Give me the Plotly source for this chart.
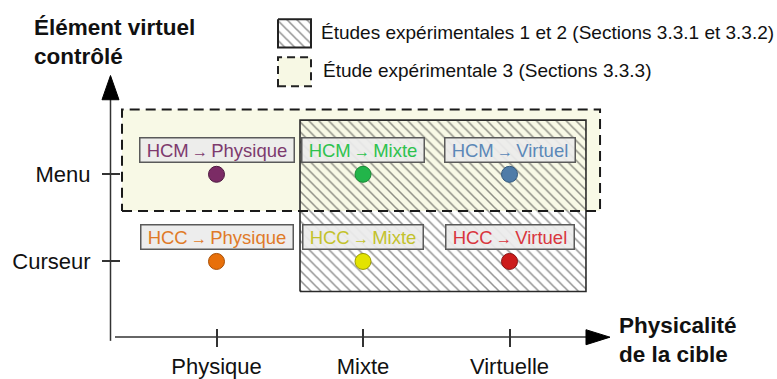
import plotly.graph_objects as go

W, H = 777, 379

# ---------------- data ----------------
x_categories = ["Physique", "Mixte", "Virtuelle"]
y_categories = ["Curseur", "Menu"]

point_x = ["Physique", "Mixte", "Virtuelle", "Physique", "Mixte", "Virtuelle"]
point_y = ["Menu", "Menu", "Menu", "Curseur", "Curseur", "Curseur"]
point_source = ["HCM", "HCM", "HCM", "HCC", "HCC", "HCC"]
point_target = ["Physique", "Mixte", "Virtuel", "Physique", "Mixte", "Virtuel"]

x_title = "Physicalité<br>de la cible"
y_title = "Élément virtuel<br>contrôlé"
legend_labels = [
    "Études expérimentales 1 et 2 (Sections 3.3.1 et 3.3.2)",
    "Étude expérimentale 3 (Sections 3.3.3)",
]

# study regions as spans of categories
study12_x = ["Mixte", "Virtuelle"]
study12_y = ["Curseur", "Menu"]
study3_x = ["Physique", "Virtuelle"]
study3_y = ["Menu", "Menu"]

# ---------------- styles ----------------
text_colors = ["#7d3a6e", "#2ec24e", "#5b88b8", "#e07a28", "#c3c22c", "#d9363e"]
dot_colors = ["#7b2b65", "#22b54a", "#4f7ca8", "#e8700a", "#e3e300", "#cc1c1c"]
dot_lines = ["#4d1a40", "#178a33", "#33597d", "#a84f05", "#9a9a00", "#8a1111"]
FONT = "Liberation Sans, Arial, sans-serif"
AX = "#333333"

xi = {c: i for i, c in enumerate(x_categories)}
yi = {c: i for i, c in enumerate(y_categories)}


def rect(xs, ys, pl, pr, pb, pt):
    x0, x1 = xi[xs[0]] - pl, xi[xs[1]] + pr
    y0, y1 = yi[ys[0]] - pb, yi[ys[1]] + pt
    return [x0, x1, x1, x0, x0], [y0, y0, y1, y1, y0]


def px(x, y):
    return x / W, 1 - y / H


HATCH = dict(shape="\\", size=7, solidity=0.22, fgcolor="#262626", bgcolor="rgba(0,0,0,0)")

fig = go.Figure()

# study 3 fill (below)
sx, sy = rect(study3_x, study3_y, 0.645, 0.618, 0.422, 0.744)
fig.add_trace(go.Scatter(x=sx, y=sy, mode="none", fill="toself",
                         fillcolor="#f8f9e6", hoverinfo="skip", showlegend=False))
# studies 1 & 2 hatched
hx, hy = rect(study12_x, study12_y, 0.43, 0.522, 0.344, 0.622)
fig.add_trace(go.Scatter(x=hx, y=hy, mode="lines", fill="toself",
                         fillcolor="rgba(0,0,0,0)", fillpattern=HATCH,
                         line=dict(color="#2a2a2a", width=1.6),
                         hoverinfo="skip", showlegend=False))
# study 3 dashed border (above)
fig.add_trace(go.Scatter(x=sx, y=sy, mode="lines",
                         line=dict(color="#1a1a1a", width=2, dash="10px,6px"),
                         hoverinfo="skip", showlegend=False))

# points
fig.add_trace(go.Scatter(
    x=[xi[c] for c in point_x], y=[yi[c] for c in point_y], mode="markers",
    marker=dict(size=16, color=dot_colors, line=dict(color=dot_lines, width=1)),
    hoverinfo="skip", showlegend=False))

annotations = []
for xc, yc, s, t, col in zip(point_x, point_y, point_source, point_target, text_colors):
    annotations.append(dict(
        x=xi[xc], y=yi[yc], xref="x", yref="y", yshift=24, showarrow=False,
        text=f"\u00a0{s}<span style='font-size:16px'>\u2009\u2192\u2009</span>{t}\u00a0",
        font=dict(family=FONT, size=18.5, color=col),
        bgcolor="rgba(236,236,236,0.92)", bordercolor="#5a5a5a",
        borderwidth=1.5, borderpad=1,
    ))

# axis titles
ax_, ay_ = px(32, 43.5)
annotations.append(dict(x=ax_, y=ay_, xref="paper", yref="paper", showarrow=False,
                        xanchor="left", yanchor="middle", align="left", text=f"<b>{y_title}</b>",
                        font=dict(family=FONT, size=22.5, color="#111")))
ax_, ay_ = px(617, 351.5)
annotations.append(dict(x=ax_, y=ay_, xref="paper", yref="paper", showarrow=False,
                        xanchor="left", yanchor="middle", align="left", text=f"<b>{x_title}</b>",
                        font=dict(family=FONT, size=22.5, color="#111")))
# legend texts
for lab, (lx, ly) in zip(legend_labels, [(319, 34), (321, 73)]):
    ax_, ay_ = px(lx, ly)
    annotations.append(dict(x=ax_, y=ay_, xref="paper", yref="paper", showarrow=False,
                            xanchor="left", yanchor="middle", text=lab,
                            font=dict(family=FONT, size=19, color="#111")))

shapes = []


def pline(x0, y0, x1, y1):
    a, b = px(x0, y0)
    c, d = px(x1, y1)
    shapes.append(dict(type="line", xref="paper", yref="paper", x0=a, y0=b, x1=c, y1=d,
                       line=dict(color=AX, width=1.5)))


def ppath(pts):
    p = "M" + " L".join(f"{px(x, y)[0]:.5f},{px(x, y)[1]:.5f}" for x, y in pts) + " Z"
    shapes.append(dict(type="path", xref="paper", yref="paper", path=p,
                       fillcolor="#000", line=dict(color="#000", width=1)))


# axis lines and arrows
pline(110.5, 352, 110.5, 100)
ppath([(102, 103), (119, 103), (110.5, 78)])
pline(115, 348, 588, 348)
ppath([(586, 340.5), (586, 356), (610, 348.2)])

# legend swatches
l2x, l2y = px(278, 89)
l2x2, l2y2 = px(311, 59)
shapes.append(dict(type="rect", xref="paper", yref="paper", x0=l2x, y0=l2y, x1=l2x2, y1=l2y2,
                   fillcolor="#f7f8e4", line=dict(color="#222", width=2, dash="8px,5px")))

fig.add_trace(go.Scatter(
    x=[278, 311, 311, 278, 278], y=[20, 20, 49, 49, 20], xaxis="x2", yaxis="y2",
    mode="lines", fill="toself", fillcolor="rgba(0,0,0,0)", fillpattern=HATCH,
    line=dict(color="#222", width=2), hoverinfo="skip", showlegend=False))

fig.update_layout(
    width=W, height=H, autosize=False, margin=dict(l=0, r=0, t=0, b=0, pad=0),
    paper_bgcolor="white", plot_bgcolor="white",
    font=dict(family=FONT, color="#111"),
    xaxis=dict(range=[-1.4778, 3.8259], domain=[0, 1], anchor="free", position=(H - 339) / H,
               tickvals=list(range(len(x_categories))), ticktext=x_categories,
               ticks="outside", ticklen=18, tickwidth=1.5, tickcolor=AX,
               showline=False, showgrid=False, zeroline=False,
               tickfont=dict(size=22, color="#111")),
    yaxis=dict(range=[-1.2111, 3.0], domain=[0, 1], anchor="free", position=120 / W,
               tickvals=list(range(len(y_categories))), ticktext=y_categories,
               ticks="outside", ticklen=18, tickwidth=1.5, tickcolor=AX,
               showline=False, showgrid=False, zeroline=False,
               ticklabelstandoff=7,
               tickfont=dict(size=22, color="#111")),
    xaxis2=dict(range=[0, W], overlaying="x", visible=False),
    yaxis2=dict(range=[H, 0], overlaying="y", visible=False),
    annotations=annotations, shapes=shapes,
)

post = (
    "var s=document.createElement('style');"
    "s.textContent='html,body{margin:0;padding:0;width:777px;height:379px;overflow:hidden;}';"
    "document.head.appendChild(s);"
)
fig.write_html(
    "out.html",
    config={"responsive": False, "displayModeBar": False},
    post_script=post,
)
